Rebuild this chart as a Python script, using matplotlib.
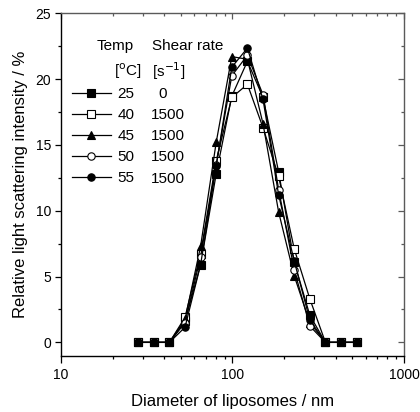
import matplotlib
matplotlib.use('Agg')
import matplotlib.pyplot as plt
from matplotlib.ticker import MultipleLocator, LogLocator, NullFormatter

plt.rcParams['font.family'] = ['Liberation Sans', 'DejaVu Sans']

# diametry (nm) - srodki przedzialow
diameter = [28.2, 34.8, 42.9, 52.9, 65.2, 80.4, 99.1, 122.2, 150.7, 185.8,
            229.1, 282.5, 348.3, 429.5, 529.6]

temps = ['25', '40', '45', '50', '55']
shear = ['0', '1500', '1500', '1500', '1500']

i25 = [0, 0, 0, 1.6, 5.9, 12.8, 18.7, 21.35, 18.6, 12.95, 6.1, 2.05, 0, 0, 0]
i40 = [0, 0, 0, 1.9, 6.75, 13.8, 18.6, 19.6, 16.3, 12.6, 7.1, 3.3, 0, 0, 0]
i45 = [0, 0, 0, 1.75, 7.3, 15.2, 21.7, 21.5, 16.6, 9.9, 5.05, 1.5, 0, 0, 0]
i50 = [0, 0, 0, 1.5, 6.5, 13.5, 20.25, 21.8, 18.8, 11.6, 5.5, 1.24, 0, 0, 0]
i55 = [0, 0, 0, 1.15, 5.9, 13.4, 20.9, 22.35, 18.45, 11.2, 6.17, 1.7, 0, 0, 0]

series = [i25, i40, i45, i50, i55]
# styl markerow: (marker, wypelnienie)
styles = [('s', 'k'), ('s', 'w'), ('^', 'k'), ('o', 'w'), ('o', 'k')]

fig = plt.figure(figsize=(4.2, 4.12), dpi=100)
ax = fig.add_axes([0.145, 0.137, 0.817, 0.831])

handles = []
for y, (m, fc), t in zip(series, styles, temps):
    h, = ax.plot(diameter, y, color='k', lw=0.9, marker=m, markersize=5.3,
                 markerfacecolor=fc, markeredgecolor='k', markeredgewidth=0.8,
                 label=t)
    handles.append(h)

ax.set_xscale('log')
ax.set_xlim(10, 1000)
ax.set_ylim(-1, 25)
ax.yaxis.set_major_locator(MultipleLocator(5))
ax.yaxis.set_minor_locator(MultipleLocator(2.5))
ax.xaxis.set_minor_locator(LogLocator(base=10, subs=range(2, 10)))
ax.xaxis.set_minor_formatter(NullFormatter())
ax.set_xticks([10, 100, 1000])
ax.set_xticklabels(['10', '100', '1000'])
ax.tick_params(which='both', direction='out', labelsize=10, width=0.9)
ax.tick_params(axis='x', which='major', length=4.8, pad=4)
ax.tick_params(axis='y', which='major', length=4.2, pad=3)
ax.tick_params(which='minor', length=2.2)
ax.spines['left'].set_linewidth(1.0)
ax.spines['bottom'].set_linewidth(1.0)
for s in ['top', 'right']:
    ax.spines[s].set_color('#5a5a5a')
    ax.spines[s].set_linewidth(1.0)

# gorna i prawa os - ticki do srodka, szare
top = ax.secondary_xaxis('top')
top.xaxis.set_minor_locator(LogLocator(base=10, subs=range(2, 10)))
top.xaxis.set_minor_formatter(NullFormatter())
top.set_xticks([10, 100, 1000])
top.tick_params(which='both', direction='in', labeltop=False, color='#5a5a5a', width=0.9)
top.tick_params(which='major', length=4)
top.tick_params(which='minor', length=2.2)
top.spines['top'].set_visible(False)
right = ax.secondary_yaxis('right')
right.yaxis.set_major_locator(MultipleLocator(5))
right.yaxis.set_minor_locator(MultipleLocator(2.5))
right.tick_params(which='both', direction='in', labelright=False, color='#5a5a5a', width=0.9)
right.tick_params(which='major', length=4)
right.tick_params(which='minor', length=2.2)
right.spines['right'].set_visible(False)

ax.set_xlabel('Diameter of liposomes / nm', fontsize=12, labelpad=9)
ax.set_ylabel('Relative light scattering intensity / %', fontsize=12, labelpad=5)

leg = ax.legend(handles=handles, loc='upper left', bbox_to_anchor=(0.0, 0.815),
                frameon=False, fontsize=11, handlelength=2.6, handletextpad=0.4,
                labelspacing=0.46, borderaxespad=0.3)

# naglowki i kolumna shear rate
ax.text(0.105, 0.905, 'Temp', transform=ax.transAxes, fontsize=11, va='center')
ax.text(0.265, 0.905, 'Shear rate', transform=ax.transAxes, fontsize=11, va='center')
ax.text(0.155, 0.832, '[$^{\\mathrm{o}}$C]', transform=ax.transAxes, fontsize=11, va='center')
ax.text(0.265, 0.832, '[s$^{\\mathrm{-1}}$]', transform=ax.transAxes, fontsize=11, va='center')
for k, s in enumerate(shear):
    ax.text(0.283 if s == '0' else 0.262, 0.763 - k * 0.0615, s,
            transform=ax.transAxes, fontsize=11, va='center')

fig.savefig('out.png', dpi=100)
